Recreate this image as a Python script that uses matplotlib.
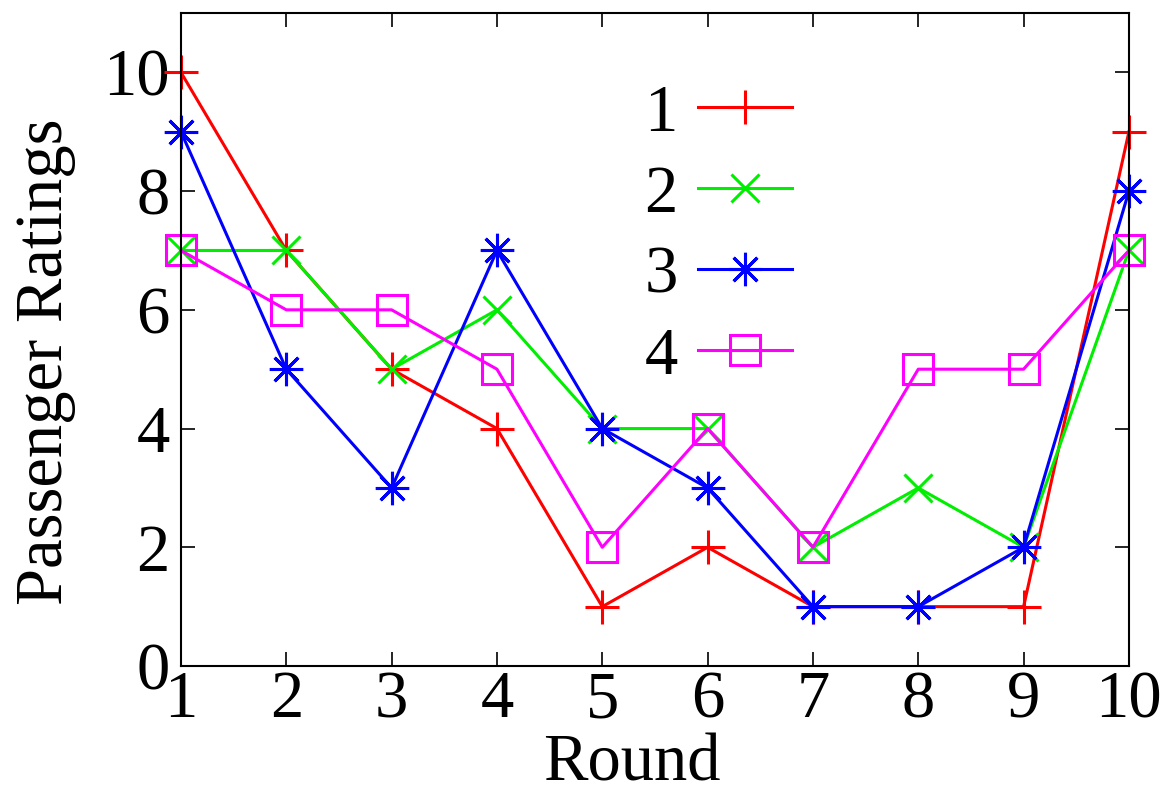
import matplotlib
matplotlib.use('Agg')
import matplotlib.pyplot as plt

plt.rcParams['font.family'] = ['Liberation Serif', 'DejaVu Serif']

rounds = [1, 2, 3, 4, 5, 6, 7, 8, 9, 10]
ratings_1 = [10, 7, 5, 4, 1, 2, 1, 1, 1, 9]
ratings_2 = [7, 7, 5, 6, 4, 4, 2, 3, 2, 7]
ratings_3 = [9, 5, 3, 7, 4, 3, 1, 1, 2, 8]
ratings_4 = [7, 6, 6, 5, 2, 4, 2, 5, 5, 7]
labels = ['1', '2', '3', '4']

fig = plt.figure(figsize=(11.66, 7.94), dpi=100)
ax = fig.add_axes([0.1552, 0.1612, 0.8130, 0.8224])

lw = 2.2
ax.plot(rounds, ratings_1, color='#ff0000', lw=lw, marker='+', ms=24, mew=lw,
        label=labels[0], clip_on=False)
ax.plot(rounds, ratings_2, color='#00ee00', lw=lw, marker='x', ms=20, mew=lw,
        label=labels[1], clip_on=False)
ax.plot(rounds, ratings_3, color='#0000ff', lw=lw, marker=(8, 2, 0), ms=24, mew=lw,
        label=labels[2], clip_on=False)
ax.plot(rounds, ratings_4, color='#ff00ff', lw=lw, marker='s', ms=22, mew=lw,
        mfc='none', label=labels[3], clip_on=False)

ax.set_xlim(1, 10)
ax.set_ylim(0, 11)
ax.set_xticks(rounds)
ax.set_yticks([0, 2, 4, 6, 8, 10])
ax.tick_params(direction='in', length=10, width=1.2, labelsize=48,
               top=True, right=True, pad=3)
ax.tick_params(axis='y', pad=8)
for s in ax.spines.values():
    s.set_linewidth(1.5)

ax.set_xlabel('Round', fontsize=48, va='center')
ax.set_ylabel('Passenger Ratings', fontsize=48, va='center')
ax.xaxis.set_label_coords(0.476, -0.150)
ax.yaxis.set_label_coords(-0.143, 0.466)

ax.legend(loc='upper right', bbox_to_anchor=(0.680, 0.943), frameon=False,
          markerfirst=False, fontsize=48, handlelength=1.42, borderpad=0,
          labelspacing=0.3, handletextpad=0.3)

fig.savefig('out.png', dpi=100)
